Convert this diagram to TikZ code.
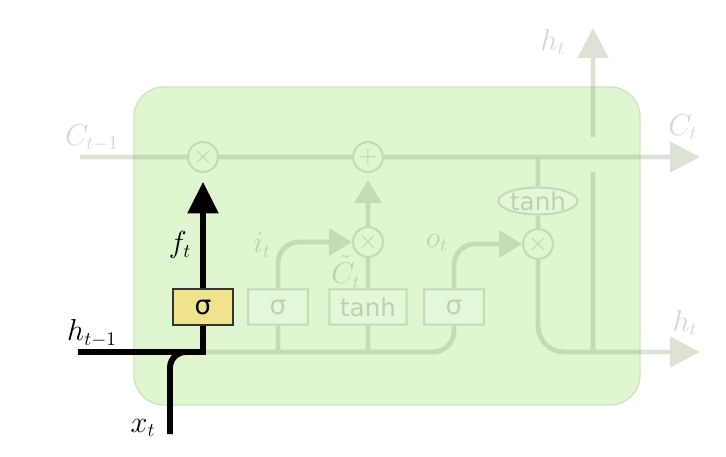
\documentclass[tikz,border=0pt]{standalone}
\usepackage{amsmath}
\usepackage{xcolor}
\usepackage{fontspec}
\usetikzlibrary{arrows.meta,shapes.geometric}
\newfontfamily\gatefont{DejaVu Sans}
\definecolor{cellgreen}{RGB}{223,246,208}
\definecolor{celledge}{RGB}{206,231,190}
\definecolor{fadeline}{RGB}{135,162,115}
\definecolor{fadetext}{RGB}{110,130,95}
\definecolor{gateyellow}{RGB}{241,226,140}
\tikzset{
  gatebox/.style={draw=fadeline, fill=cellgreen!40!white, line width=1.2pt, minimum width=34pt,
    minimum height=20pt, inner sep=0pt, font=\gatefont\fontsize{15}{17}\selectfont, text=fadetext},
  pointop/.style={circle, draw=fadeline, line width=1.2pt, minimum size=17pt, inner sep=0pt,
    text=fadetext, font=\Large},
  flow/.style={line width=2.8pt, draw=fadeline},
  bigtip/.style={-{Triangle[length=17pt,width=17pt]}},
  smalltip/.style={-{Triangle[length=13pt,width=15pt]}},
  lbl/.style={font=\fontsize{16}{19}\selectfont},
}

\begin{document}
\begin{tikzpicture}[x=0.02cm, y=-0.02cm]
    \useasboundingbox (0,0) rectangle (726,456);
    \filldraw[fill=cellgreen, draw=celledge, line width=0.8pt, rounded corners=17pt] (134,87) rectangle (640,405);

    \coordinate (cin) at (80,157);
    \coordinate (cout) at (700,157);
    \coordinate (hin) at (78,352);
    \coordinate (hout) at (700,352);
    \coordinate (hbase) at (593,352);
    \coordinate (hgap) at (593,172);
    \coordinate (hrise) at (593,137);
    \coordinate (hup) at (593,28);
    \coordinate (xin) at (170,434);

    \node[gatebox, fill=gateyellow, draw=black!80, text=black] (fgate) at (203,307) {σ};

    % faded part of the cell
    \begin{scope}[transparency group, opacity=0.3]
        \node[pointop] (fmul) at (203,157) {$\times$};
        \node[pointop] (addp) at (368,157) {$+$};
        \node[pointop] (imul) at (368,242) {$\times$};
        \node[pointop] (omul) at (538,244) {$\times$};
        \node[gatebox, ellipse, minimum width=45pt, minimum height=15pt, font=\gatefont\fontsize{14}{16}\selectfont] (squash) at (538,201) {tanh};
        \node[gatebox] (igate) at (278,307) {σ};
        \node[gatebox, minimum width=44pt, font=\gatefont\fontsize{14}{16}\selectfont] (cgate) at (368,307) {tanh};
        \node[gatebox] (ogate) at (454,307) {σ};

        \draw[flow] (cin) -- (fmul.west) (fmul.east) -- (addp.west);
        \draw[flow, bigtip] (addp.east) -- (cout);
        \draw[flow] (squash.north) -- (squash.north |- cout);
        \draw[flow] (squash.south) -- (omul.north);
        \draw[flow, bigtip, rounded corners=15] (omul.south) |- (hout);
        \draw[flow] (hbase) -- (hgap);
        \draw[flow, bigtip] (hrise) -- (hup);
        \draw[flow, rounded corners=12] (fgate.south |- hin) -| (ogate.south);
        \draw[flow] (igate.south) -- (igate.south |- hin);
        \draw[flow, smalltip, rounded corners=12] (igate.north) |- (imul.west);
        \draw[flow] (cgate.south) -- (cgate.south |- hin);
        \draw[flow] (cgate.north) -- (imul.south);
        \draw[flow, smalltip, shorten >=4pt] (imul.north) -- (addp.south);
        \draw[flow, smalltip, rounded corners=12] (ogate.north) |- (omul.west);

        \node[lbl, text=fadetext] (cprev) at (92,138) {$C_{t-1}$};
        \node[lbl, text=fadetext] (cnext) at (683,127) {$C_t$};
        \node[lbl, text=fadetext] (htop) at (553,42) {$h_t$};
        \node[lbl, text=fadetext] (hright) at (685,323) {$h_t$};
        \node[lbl, text=fadetext] (ilbl) at (262,245) {$i_t$};
        \node[lbl, text=fadetext] (ctilde) at (346,272) {$\tilde{C}_t$};
        \node[lbl, text=fadetext] (olbl) at (437,243) {$o_t$};
    \end{scope}

    % forget gate
    \draw[line width=3.4pt] (hin) -| (fgate.south);
    \draw[line width=3.4pt, rounded corners=9] (xin) |- (fgate.south |- hin);
    \draw[line width=3.4pt, -{Triangle[length=18pt,width=17pt]}, shorten >=5pt] (fgate.north) -- (fmul.south);
    \node[lbl] (hprev) at (92,333) {$h_{t-1}$};
    \node[lbl] (xlbl) at (143,428) {$x_t$};
    \node[lbl] (flbl) at (180,245) {$f_t$};
\end{tikzpicture}
\end{document}
